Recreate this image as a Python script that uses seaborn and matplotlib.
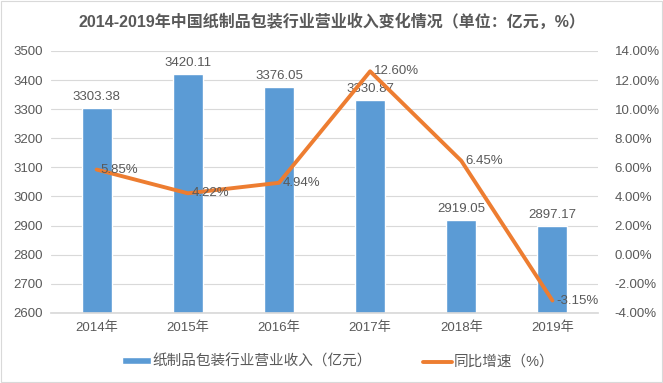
import matplotlib
matplotlib.use("Agg")
import matplotlib.pyplot as plt
import seaborn as sns
import pandas as pd

sns.set_theme(style="white")
plt.rcParams['font.family'] = ['Liberation Sans', 'Noto Sans CJK SC', 'DejaVu Sans']

years = ["2014年", "2015年", "2016年", "2017年", "2018年", "2019年"]
revenue = [3303.38, 3420.11, 3376.05, 3330.87, 2919.05, 2897.17]
growth = [5.85, 4.22, 4.94, 12.60, 6.45, -3.15]

bar_name = "纸制品包装行业营业收入（亿元）"
line_name = "同比增速（%）"
title = "2014-2019年中国纸制品包装行业营业收入变化情况（单位：亿元，%）"

df = pd.DataFrame({"year": years, "revenue": revenue, "growth": growth})

blue = "#5B9BD5"
orange = "#ED7D31"
txt = "#595959"

fig = plt.figure(figsize=(6.63, 3.83), dpi=100)
ax = fig.add_axes([0.077, 0.183, 0.825, 0.684])

sns.barplot(data=df, x="year", y="revenue", color=blue, width=0.33,
            saturation=1, ax=ax, label=bar_name)
if ax.get_legend() is not None:
    ax.get_legend().remove()
ax.set_ylim(2600, 3500)
ax.set_yticks(range(2600, 3501, 100))
ax.grid(axis="y", color="#D9D9D9", linewidth=0.8)
ax.set_axisbelow(True)
for s in ax.spines.values():
    s.set_visible(False)
ax.spines["bottom"].set_visible(True)
ax.spines["bottom"].set_color("#D9D9D9")
ax.set_xlabel("")
ax.set_ylabel("")
ax.tick_params(axis="both", colors=txt, labelsize=9.5, length=0, pad=6)

for i, v in enumerate(revenue):
    ax.text(i, v + 18, f"{v:.2f}", ha="center", va="bottom", color=txt, fontsize=9.5)

ax2 = ax.twinx()
sns.lineplot(x=list(range(len(years))), y=growth, color=orange, linewidth=2.8,
             ax=ax2, label=line_name, legend=False)
ax2.set_ylim(-4, 14)
ax2.set_yticks(range(-4, 15, 2))
ax2.set_yticklabels([f"{t:.2f}%" for t in range(-4, 15, 2)])
for s in ax2.spines.values():
    s.set_visible(False)
ax2.tick_params(axis="y", colors=txt, labelsize=9.5, length=0, pad=12)
ax2.grid(False)
ax2.set_xlim(-0.5, 5.5)
ax.set_xlim(-0.5, 5.5)

for i, v in enumerate(growth):
    ax2.text(i + 0.04, v, f"{v:.2f}%", ha="left", va="center", color=txt, fontsize=9.5)

fig.suptitle(title, x=0.5, y=0.965, fontsize=11.5, fontweight="bold", color=txt)

h1, l1 = ax.get_legend_handles_labels()
h2, l2 = ax2.get_legend_handles_labels()
fig.legend(h1 + h2, l1 + l2, loc="center", bbox_to_anchor=(0.51, 0.055), ncol=2,
           frameon=False, fontsize=10.5, labelcolor=txt, handlelength=2,
           handleheight=0.35, columnspacing=3.5, handletextpad=0.1)

fig.patches.append(plt.Rectangle((0.002, 0.003), 0.996, 0.994, transform=fig.transFigure,
                                 fill=False, edgecolor="#D9D9D9", linewidth=0.8))

fig.savefig("out.png", dpi=100)
